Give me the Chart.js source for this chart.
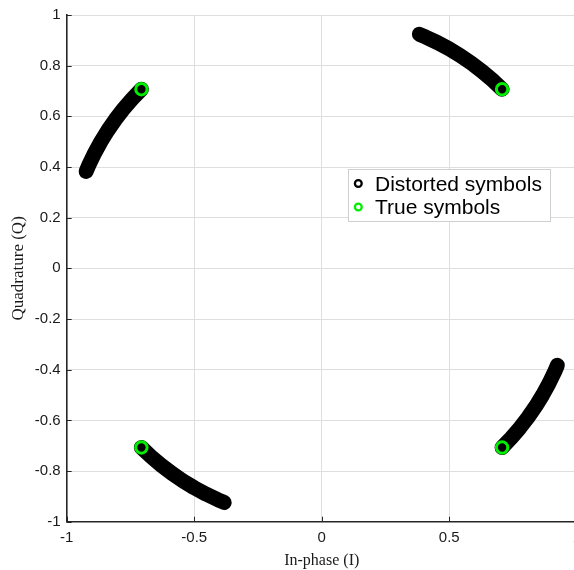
<!DOCTYPE html>
<html>
<head>
<meta charset="utf-8">
<script src="https://cdn.jsdelivr.net/npm/chart.js@4/dist/chart.umd.min.js"></script>
<style>
  html, body { margin: 0; padding: 0; background: #fff; overflow: hidden; }
  #wrap { position: relative; width: 574px; height: 570px; overflow: hidden; }
  canvas { display: block; }
</style>
</head>
<body>
<div id="wrap"><canvas id="c" width="600" height="570"></canvas></div>
<script>
// QPSK constellation: each received symbol is phase-rotated away from its ideal point,
// so the distorted symbols trace a short arc on the unit circle.
const arcI1 = [0.7071, 0.6691, 0.6293, 0.5878, 0.5446, 0.5000, 0.4540, 0.4067, 0.3827];
const arcQ1 = [0.7071, 0.7431, 0.7771, 0.8090, 0.8387, 0.8660, 0.8910, 0.9135, 0.9239];

const arcI2 = [-0.7071, -0.7431, -0.7771, -0.8090, -0.8387, -0.8660, -0.8910, -0.9135, -0.9239];
const arcQ2 = [0.7071, 0.6691, 0.6293, 0.5878, 0.5446, 0.5000, 0.4540, 0.4067, 0.3827];

const arcI3 = [-0.7071, -0.6691, -0.6293, -0.5878, -0.5446, -0.5000, -0.4540, -0.4067, -0.3827];
const arcQ3 = [-0.7071, -0.7431, -0.7771, -0.8090, -0.8387, -0.8660, -0.8910, -0.9135, -0.9239];

const arcI4 = [0.7071, 0.7431, 0.7771, 0.8090, 0.8387, 0.8660, 0.8910, 0.9135, 0.9239];
const arcQ4 = [-0.7071, -0.6691, -0.6293, -0.5878, -0.5446, -0.5000, -0.4540, -0.4067, -0.3827];

// ideal constellation points
const trueI = [0.7071, -0.7071, -0.7071, 0.7071];
const trueQ = [0.7071, 0.7071, -0.7071, -0.7071];

const xTickValues = [-1, -0.5, 0, 0.5, 1];
const xTickLabels = ['-1', '-0.5', '0', '0.5', '1'];
const yTickValues = [-1, -0.8, -0.6, -0.4, -0.2, 0, 0.2, 0.4, 0.6, 0.8, 1];
const yTickLabels = ['-1', '-0.8', '-0.6', '-0.4', '-0.2', '0', '0.2', '0.4', '0.6', '0.8', '1'];

const seriesLabels = ['Distorted symbols', 'True symbols'];

const toPoints = (I, Q) => I.map((v, i) => ({ x: v, y: Q[i] }));

const arcStyle = {
  showLine: true,
  borderColor: '#000000',
  backgroundColor: '#000000',
  borderWidth: 15,
  borderCapStyle: 'round',
  borderJoinStyle: 'round',
  pointRadius: 0,
  tension: 0,
  fill: false,
  order: 1
};

const datasets = [
  { label: seriesLabels[1], data: toPoints(trueI, trueQ), showLine: false,
    pointRadius: 5.7, pointBorderWidth: 3, pointBorderColor: '#00ee00',
    pointBackgroundColor: 'rgba(0,0,0,0)', borderColor: '#00ee00', order: 0, legend: true },
  Object.assign({ label: seriesLabels[0], data: toPoints(arcI1, arcQ1), legend: true }, arcStyle),
  Object.assign({ label: seriesLabels[0], data: toPoints(arcI2, arcQ2) }, arcStyle),
  Object.assign({ label: seriesLabels[0], data: toPoints(arcI3, arcQ3) }, arcStyle),
  Object.assign({ label: seriesLabels[0], data: toPoints(arcI4, arcQ4) }, arcStyle)
];

// short inward tick marks along the left and bottom axes
const innerTicks = {
  id: 'innerTicks',
  afterDraw(chart) {
    const { ctx, chartArea: a, scales: { x, y } } = chart;
    ctx.save();
    ctx.strokeStyle = '#262626';
    ctx.lineWidth = 1;
    ctx.beginPath();
    x.ticks.forEach(t => {
      const px = Math.round(x.getPixelForValue(t.value)) + 0.5;
      ctx.moveTo(px, a.bottom);
      ctx.lineTo(px, a.bottom - 5);
    });
    y.ticks.forEach(t => {
      const py = Math.round(y.getPixelForValue(t.value)) + 0.5;
      ctx.moveTo(a.left, py);
      ctx.lineTo(a.left + 5, py);
    });
    ctx.stroke();
    ctx.restore();
  }
};

// boxed legend placed inside the plotting area
const boxLegend = {
  id: 'boxLegend',
  afterDraw(chart, args, opts) {
    const ctx = chart.ctx;
    const items = chart.data.datasets.filter(d => d.legend)
      .sort((a, b) => b.order - a.order);
    ctx.save();
    ctx.fillStyle = '#ffffff';
    ctx.fillRect(opts.left, opts.top, opts.width, opts.height);
    ctx.strokeStyle = '#cfcfcf';
    ctx.lineWidth = 1;
    ctx.strokeRect(opts.left + 0.5, opts.top + 0.5, opts.width, opts.height);
    ctx.font = opts.font;
    ctx.textBaseline = 'alphabetic';
    ctx.textAlign = 'left';
    items.forEach((d, i) => {
      const cy = opts.firstMarkerY + i * opts.rowGap;
      ctx.beginPath();
      ctx.arc(opts.markerX, cy, 3.4, 0, Math.PI * 2);
      ctx.lineWidth = 2.3;
      ctx.strokeStyle = d.legend && d.pointBorderColor ? d.pointBorderColor : d.borderColor;
      ctx.stroke();
      ctx.fillStyle = '#000000';
      ctx.fillText(d.label, opts.textX, opts.firstBaseline + i * opts.rowGap);
    });
    ctx.restore();
  }
};

const tickFont = { family: '"Liberation Sans", Arial, Helvetica, sans-serif', size: 15 };
const titleFontFamily = '"Liberation Serif", "Times New Roman", Times, serif';

new Chart(document.getElementById('c'), {
  type: 'scatter',
  data: { datasets },
  plugins: [innerTicks, boxLegend],
  options: {
    responsive: false,
    animation: false,
    events: [],
    layout: { padding: { top: 12.7, right: 23.2, left: 0, bottom: 0 } },
    plugins: {
      legend: { display: false },
      tooltip: { enabled: false },
      boxLegend: {
        left: 348, top: 169, width: 202, height: 52,
        markerX: 358.3, firstMarkerY: 183.5, rowGap: 23.5,
        textX: 375, firstBaseline: 190.7,
        font: '21px "Liberation Sans", Arial, Helvetica, sans-serif'
      }
    },
    scales: {
      x: {
        type: 'linear', min: -1, max: 1,
        afterBuildTicks: s => { s.ticks = xTickValues.map(v => ({ value: v })); },
        afterFit: s => { s.height = 48.3; },
        ticks: { font: tickFont, color: '#1a1a1a', padding: 7, maxRotation: 0,
                 callback: (v, i) => xTickLabels[i] },
        grid: { color: '#dedede', lineWidth: 1, drawTicks: false },
        border: { display: true, color: '#262626', width: 1.6 },
        title: { display: true, text: 'In-phase (I)', color: '#1a1a1a',
                 font: { family: titleFontFamily, size: 16 }, padding: { top: 0, bottom: 0 } }
      },
      y: {
        type: 'linear', min: -1, max: 1,
        afterBuildTicks: s => { s.ticks = yTickValues.map(v => ({ value: v })); },
        afterFit: s => { s.width = 66.7; },
        ticks: { font: tickFont, color: '#1a1a1a', padding: 6,
                 callback: (v, i) => yTickLabels[i] },
        grid: { color: '#dedede', lineWidth: 1, drawTicks: false },
        border: { display: true, color: '#262626', width: 1.6 },
        title: { display: true, text: 'Quadrature (Q)', color: '#1a1a1a',
                 font: { family: titleFontFamily, size: 17 }, padding: { top: 8, bottom: 0 } }
      }
    }
  }
});
</script>
</body>
</html>
